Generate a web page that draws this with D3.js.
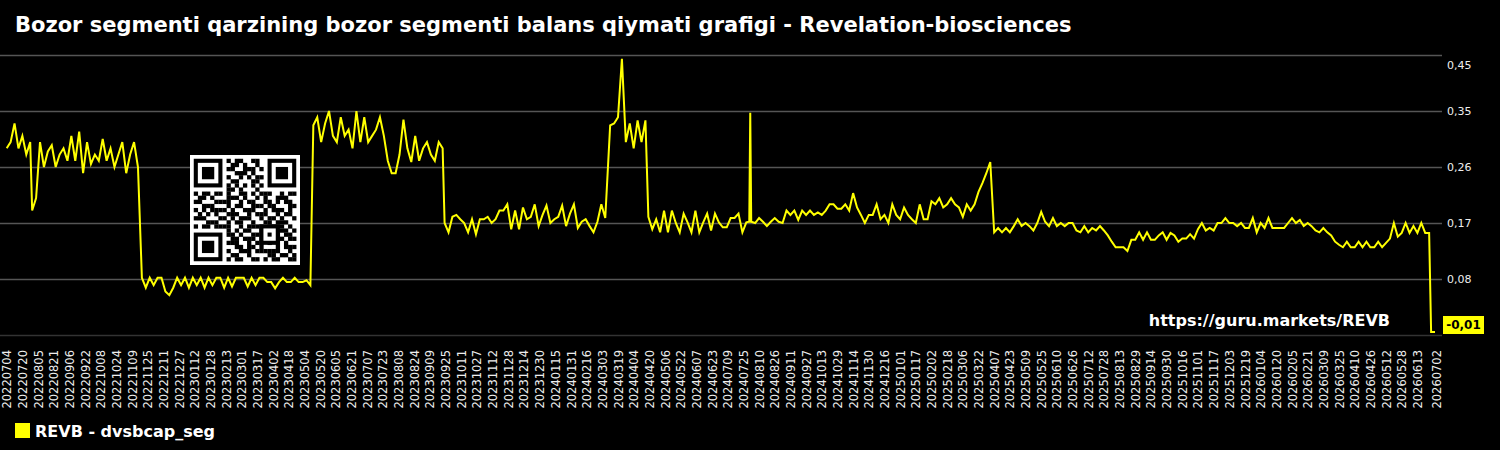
<!DOCTYPE html>
<html>
<head>
<meta charset="utf-8">
<script src="https://cdn.jsdelivr.net/npm/d3@7"></script>
<style>
    body { margin: 0; background: #000; }
    svg { display: block; font-family: "DejaVu Sans", sans-serif; }
</style>
</head>
<body>
<svg id="chart"></svg>
<script>
(function(){
    "use strict";

    const width = 1500,
        height = 450;

    const title = "Bozor segmenti qarzining bozor segmenti balans qiymati grafigi - Revelation-biosciences";
    const seriesName = "REVB - dvsbcap_seg";
    const siteUrl = "https://guru.markets/REVB";
    const lastLabel = "-0,01";

    // x axis labels, one every 16 days
    const xTickLabels = [
        "20220704", "20220720", "20220805", "20220821", "20220906", "20220922", "20221008", "20221024",
        "20221109", "20221125", "20221211", "20221227", "20230112", "20230128", "20230213", "20230301",
        "20230317", "20230402", "20230418", "20230504", "20230520", "20230605", "20230621", "20230707",
        "20230723", "20230808", "20230824", "20230909", "20230925", "20231011", "20231027", "20231112",
        "20231128", "20231214", "20231230", "20240115", "20240131", "20240216", "20240303", "20240319",
        "20240404", "20240420", "20240506", "20240522", "20240607", "20240623", "20240709", "20240725",
        "20240810", "20240826", "20240911", "20240927", "20241013", "20241029", "20241114", "20241130",
        "20241216", "20250101", "20250117", "20250202", "20250218", "20250306", "20250322", "20250407",
        "20250423", "20250509", "20250525", "20250610", "20250626", "20250712", "20250728", "20250813",
        "20250829", "20250914", "20250930", "20251016", "20251101", "20251117", "20251203", "20251219",
        "20260104", "20260120", "20260205", "20260221", "20260309", "20260325", "20260410", "20260426",
        "20260512", "20260528", "20260613", "20260702"
    ];
    const xFirst = "20220704",
        xLast = "20260702";

    const yTickValues = [-0.01, 0.08, 0.17, 0.26, 0.35, 0.44];
    const yTickLabels = ["", "0,08", "0,17", "0,26", "0,35", "0,45"];

    // series, in runs; each run starts on a date and steps 4 days
    const chunkStep = 4;
    const chunkStarts = [
        "20220704", "20220730", "20220807", "20221119", "20230513", "20230924",
        "20240311", "20240419", "20240731", "20240801", "20240802", "20260627"
    ];
    const chunkValues = [
        [0.29, 0.30, 0.33, 0.29, 0.31, 0.28, 0.30],
        [0.19, 0.21],
        [0.30, 0.26, 0.285, 0.295, 0.26, 0.28, 0.29, 0.27, 0.31, 0.27, 0.317, 0.25, 0.30,
         0.265, 0.28, 0.27, 0.305, 0.27, 0.29, 0.26, 0.28, 0.30, 0.25, 0.28, 0.30, 0.26],
        [0.082, 0.066, 0.082, 0.07, 0.082, 0.082, 0.06, 0.054, 0.066, 0.082, 0.07, 0.082, 0.066, 0.082,
         0.07, 0.082, 0.066, 0.082, 0.07, 0.082, 0.082, 0.066, 0.082, 0.068, 0.082, 0.082, 0.082, 0.068,
         0.082, 0.07, 0.082, 0.082, 0.075, 0.075, 0.065, 0.075, 0.082, 0.075, 0.075, 0.082, 0.075, 0.075,
         0.078, 0.07],
        [0.327, 0.34, 0.30, 0.33, 0.35, 0.31, 0.30, 0.34, 0.31, 0.32, 0.29, 0.35, 0.30, 0.34, 0.30, 0.31,
         0.32, 0.34, 0.31, 0.27, 0.25, 0.25, 0.28, 0.336, 0.29, 0.268, 0.31, 0.27, 0.29, 0.30, 0.28, 0.27,
         0.30, 0.29],
        [0.17, 0.155, 0.18, 0.183, 0.176, 0.17, 0.155, 0.176, 0.152, 0.176, 0.176, 0.18, 0.17, 0.176,
         0.19, 0.19, 0.2, 0.16, 0.19, 0.16, 0.195, 0.176, 0.18, 0.2, 0.165, 0.183, 0.198, 0.17, 0.176,
         0.18, 0.198, 0.165, 0.185, 0.2, 0.162, 0.172, 0.176, 0.165, 0.155, 0.172, 0.2, 0.178],
        [0.327, 0.33, 0.34, 0.434, 0.30, 0.33, 0.29, 0.335, 0.30, 0.335],
        [0.18, 0.16, 0.176, 0.155, 0.19, 0.155, 0.19, 0.17, 0.155, 0.185, 0.171, 0.155, 0.19, 0.155,
         0.171, 0.185, 0.158, 0.185, 0.171, 0.163, 0.163, 0.178, 0.178, 0.185, 0.155, 0.171],
        [0.172],
        [0.347],
        [0.172, 0.17, 0.178, 0.172, 0.165, 0.172, 0.178, 0.172, 0.17, 0.19,
         0.183, 0.19, 0.175, 0.19, 0.183, 0.19, 0.183, 0.187, 0.183, 0.19,
         0.2, 0.2, 0.193, 0.193, 0.2, 0.19, 0.218, 0.195, 0.183, 0.17,
         0.183, 0.183, 0.2, 0.176, 0.183, 0.17, 0.2, 0.183, 0.176, 0.195,
         0.183, 0.176, 0.17, 0.2, 0.176, 0.176, 0.205, 0.2, 0.21, 0.195,
         0.2, 0.21, 0.2, 0.195, 0.18, 0.2, 0.19, 0.2, 0.22, 0.234,
         0.25, 0.268, 0.155, 0.162, 0.155, 0.162, 0.155, 0.165, 0.176, 0.165,
         0.17, 0.165, 0.158, 0.17, 0.188, 0.172, 0.165, 0.178, 0.165, 0.17,
         0.165, 0.17, 0.17, 0.158, 0.155, 0.165, 0.155, 0.162, 0.158, 0.165,
         0.158, 0.15, 0.14, 0.131, 0.131, 0.131, 0.125, 0.143, 0.143, 0.155,
         0.143, 0.155, 0.143, 0.143, 0.15, 0.155, 0.143, 0.154, 0.15, 0.14,
         0.145, 0.145, 0.152, 0.145, 0.16, 0.17, 0.158, 0.162, 0.158, 0.17,
         0.17, 0.178, 0.17, 0.17, 0.165, 0.17, 0.162, 0.162, 0.178, 0.155,
         0.17, 0.162, 0.178, 0.162, 0.162, 0.162, 0.162, 0.17, 0.178, 0.17,
         0.175, 0.165, 0.17, 0.165, 0.158, 0.155, 0.162, 0.155, 0.15, 0.14,
         0.135, 0.131, 0.14, 0.131, 0.131, 0.14, 0.131, 0.14, 0.131, 0.131,
         0.14, 0.131, 0.138, 0.145, 0.17, 0.148, 0.154, 0.17, 0.154, 0.165,
         0.154, 0.17, 0.154, 0.154],
        [-0.005, -0.005]
    ];

    // QR code modules (finder squares are drawn separately)
    const qrRows = [
        "1111111010110011001111111", "1000001001101001001000001", "1011101011001110101011101",
        "1011101000111010001011101", "1011101010010101101011101", "1000001001100011001000001",
        "1111111010101010101111111", "0000000011010001000000000", "1011011010011010111001011",
        "0110100011101001010011100", "1100011110010110011010110", "0011100010110011101100011",
        "1010111101001110010111010", "0101010011100101110010110", "1110001101011100101101001",
        "0001110010110010011011100", "1011011110010111101111010", "0000000010101100100011101",
        "1111111011010011111110110", "1000001001101110100011011", "1011101011100101101010100",
        "1011101000110110100010111", "1011101010011101111110010", "1000001001100100001101101",
        "1111111010110011010110011"
    ];

    const parse = d3.utcParse("%Y%m%d"),
        fmt = d3.utcFormat("%Y%m%d");

    let data = [];
    chunkStarts.forEach((s, c) => {
        const start = parse(s);
        chunkValues[c].forEach((v, i) => {
            data.push({ date: d3.utcDay.offset(start, i * chunkStep), value: v });
        });
    });

    const x = d3.scaleUtc()
        .domain([parse(xFirst), parse(xLast)])
        .range([6.7, 1436]);

    const y = d3.scaleLinear()
        .domain([-0.01, 0.44])
        .range([335, 55]);

    let svg = d3.select("svg#chart")
        .attr("width", width)
        .attr("height", height);

    svg.append("rect")
        .attr("width", width)
        .attr("height", height)
        .attr("fill", "#000");

    // title
    svg.append("text")
        .attr("x", 15)
        .attr("y", 32)
        .attr("fill", "#fff")
        .attr("font-size", 21)
        .attr("font-weight", "bold")
        .text(title);

    // grid + y labels
    let yAxis = svg.append("g")
        .attr("transform", "translate(1442,0)")
        .call(d3.axisRight(y)
            .tickValues(yTickValues)
            .tickSize(-1442)
            .tickPadding(5)
            .tickFormat((d, i) => yTickLabels[i]));
    yAxis.select(".domain").remove();
    yAxis.selectAll(".tick line")
        .attr("stroke", (d, i) => i === 0 ? "#333" : "#555")
        .attr("stroke-width", 1.5);
    yAxis.selectAll(".tick text")
        .attr("fill", "#eee")
        .attr("font-size", 11)
        .attr("font-family", "DejaVu Sans")
        .attr("dy", (d, i) => i === yTickValues.length - 1 ? "1.25em" : "0.35em");

    // x labels
    let xAxis = svg.append("g")
        .attr("transform", "translate(0,342)")
        .call(d3.axisBottom(x)
            .tickValues(xTickLabels.map(parse))
            .tickSize(0)
            .tickFormat(fmt));
    xAxis.select(".domain").remove();
    xAxis.selectAll(".tick text")
        .attr("y", 0)
        .attr("x", -8)
        .attr("dy", "0.35em")
        .attr("transform", "rotate(-90)")
        .style("text-anchor", "end")
        .attr("fill", "#eee")
        .attr("font-size", 11.5)
        .attr("font-family", "DejaVu Sans");

    // QR code
    const qrX = 190, qrY = 155, qrSize = 110, mod = 4.1, qrPad = (qrSize - 25 * mod) / 2;
    let qr = svg.append("g").attr("transform", `translate(${qrX},${qrY})`);
    qr.append("rect").attr("width", qrSize).attr("height", qrSize).attr("fill", "#fff");
    const inFinder = (r, c) => (r < 8 && c < 8) || (r < 8 && c > 16) || (r > 16 && c < 8);
    qrRows.forEach((row, r) => {
        row.split("").forEach((b, c) => {
            if (b === "1" && !inFinder(r, c)) {
                qr.append("rect")
                    .attr("x", qrPad + c * mod).attr("y", qrPad + r * mod)
                    .attr("width", mod + 0.2).attr("height", mod + 0.2)
                    .attr("fill", "#000");
            }
        });
    });
    [[0, 0], [0, 18], [18, 0]].forEach(([r, c]) => {
        const fx = qrPad + c * mod, fy = qrPad + r * mod;
        qr.append("rect").attr("x", fx).attr("y", fy).attr("width", 7 * mod).attr("height", 7 * mod).attr("fill", "#000");
        qr.append("rect").attr("x", fx + mod).attr("y", fy + mod).attr("width", 5 * mod).attr("height", 5 * mod).attr("fill", "#fff");
        qr.append("rect").attr("x", fx + 2 * mod).attr("y", fy + 2 * mod).attr("width", 3 * mod).attr("height", 3 * mod).attr("fill", "#000");
    });
    // alignment square
    qr.append("rect").attr("x", qrPad + 16 * mod).attr("y", qrPad + 16 * mod).attr("width", 5 * mod).attr("height", 5 * mod).attr("fill", "#000");
    qr.append("rect").attr("x", qrPad + 17 * mod).attr("y", qrPad + 17 * mod).attr("width", 3 * mod).attr("height", 3 * mod).attr("fill", "#fff");
    qr.append("rect").attr("x", qrPad + 18 * mod).attr("y", qrPad + 18 * mod).attr("width", mod).attr("height", mod).attr("fill", "#000");

    // the series line
    const line = d3.line()
        .x(d => x(d.date))
        .y(d => y(d.value));

    svg.append("path")
        .datum(data)
        .attr("fill", "none")
        .attr("stroke", "#ffff00")
        .attr("stroke-width", 2)
        .attr("stroke-linejoin", "miter")
        .attr("d", line);

    // watermark
    svg.append("text")
        .attr("x", 1390)
        .attr("y", 326)
        .attr("text-anchor", "end")
        .attr("fill", "#fff")
        .attr("font-size", 16)
        .attr("font-weight", "bold")
        .text(siteUrl);

    // last value tag
    const lastY = y(yTickValues[0]);
    svg.append("rect")
        .attr("x", 1443)
        .attr("y", lastY - 19)
        .attr("width", 41)
        .attr("height", 18)
        .attr("fill", "#ffff00");
    svg.append("text")
        .attr("x", 1463.5)
        .attr("y", lastY - 10)
        .attr("dy", "0.35em")
        .attr("text-anchor", "middle")
        .attr("fill", "#000")
        .attr("font-size", 12)
        .attr("font-weight", "bold")
        .text(lastLabel);

    // legend
    svg.append("rect")
        .attr("x", 15)
        .attr("y", 423)
        .attr("width", 15)
        .attr("height", 15)
        .attr("fill", "#ffff00");
    svg.append("text")
        .attr("x", 35)
        .attr("y", 437)
        .attr("fill", "#fff")
        .attr("font-size", 16)
        .attr("font-weight", "bold")
        .text(seriesName);
})();
</script>
</body>
</html>
